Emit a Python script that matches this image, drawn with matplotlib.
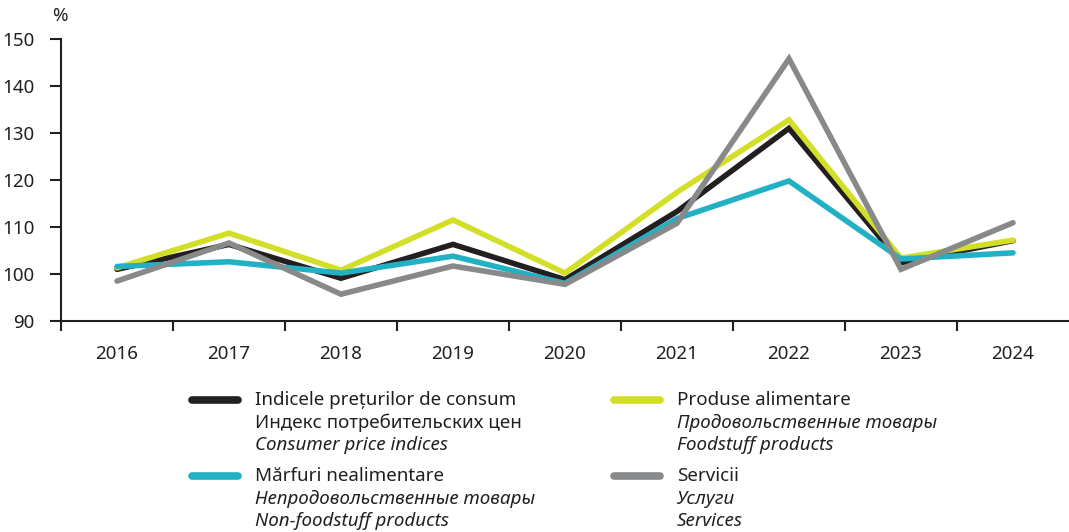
import matplotlib
matplotlib.use("Agg")
import matplotlib.pyplot as plt
from matplotlib.lines import Line2D

plt.rcParams["font.family"] = ["Noto Sans", "DejaVu Sans"]

years = ["2016", "2017", "2018", "2019", "2020", "2021", "2022", "2023", "2024"]
cpi = [101.0, 106.3, 99.1, 106.3, 98.8, 113.3, 131.0, 102.4, 107.1]
food = [101.3, 108.7, 100.8, 111.5, 100.2, 117.4, 132.8, 103.4, 107.2]
nonfood = [101.6, 102.6, 100.2, 103.8, 98.0, 111.8, 119.8, 103.2, 104.5]
services = [98.5, 106.6, 95.7, 101.7, 97.8, 110.8, 145.8, 101.0, 110.9]

labels = [
    ("Indicele prețurilor de consum", "Индекс потребительских цен", "Consumer price indices"),
    ("Produse alimentare", "Продовольственные товары", "Foodstuff products"),
    ("Mărfuri nealimentare", "Непродовольственные товары", "Non-foodstuff products"),
    ("Servicii", "Услуги", "Services"),
]
colors = ["#231f20", "#d3df26", "#22b1c4", "#88898b"]
series = [cpi, food, nonfood, services]
text_col = "#231f20"

fig = plt.figure(figsize=(10.69, 5.32), dpi=100)
ax = fig.add_axes([61 / 1069, 1 - 321 / 532, 1 - 61 / 1069, 282 / 532])

x = list(range(len(years)))
for vals, c in zip(series, colors):
    ax.plot(x, vals, color=c, linewidth=4, solid_joinstyle="miter", solid_capstyle="round")

ax.set_xlim(-0.5, len(years) - 0.5)
ax.set_ylim(90, 150)
ax.set_yticks(range(90, 151, 10))
ax.set_xticks([i - 0.5 for i in range(len(years))])
ax.set_xticklabels([])
ax.set_xticks(x, minor=True)
ax.set_xticklabels(years, minor=True)
ax.tick_params(axis="x", which="major", direction="out", length=7, width=1.5, color=text_col)
ax.tick_params(axis="x", which="minor", length=0, pad=17, labelsize=13.5, labelcolor=text_col)
ax.tick_params(axis="y", direction="out", length=8, width=1.5, color=text_col,
               labelsize=13.5, labelcolor=text_col, pad=11)
for s in ["top", "right"]:
    ax.spines[s].set_visible(False)
for s in ["left", "bottom"]:
    ax.spines[s].set_linewidth(1.5)
    ax.spines[s].set_color(text_col)

fig.text(60 / 1069, 1 - 16 / 532, "%", ha="center", va="center", fontsize=13.5, color=text_col)

# legend, laid out by hand in two columns
W, H = 1069, 532
pos = [(190, 400), (612, 400), (190, 476), (612, 476)]
for (px, py), (ro, ru, en), c, i in zip(pos, labels, colors, range(4)):
    fig.add_artist(Line2D([(px + 2) / W, (px + 48) / W], [1 - py / H, 1 - py / H],
                          color=c, linewidth=5.5, solid_capstyle="round"))
    tx = (px + 65) / W
    fig.text(tx, 1 - py / H, ro, va="center", fontsize=13.5, color=text_col)
    fig.text(tx, 1 - (py + 22.5) / H, ru, va="center", fontsize=13.5, color=text_col,
             style="normal" if i == 0 else "italic")
    fig.text(tx, 1 - (py + 45) / H, en, va="center", fontsize=13.5, color=text_col, style="italic")

fig.savefig("out.png", dpi=100)
